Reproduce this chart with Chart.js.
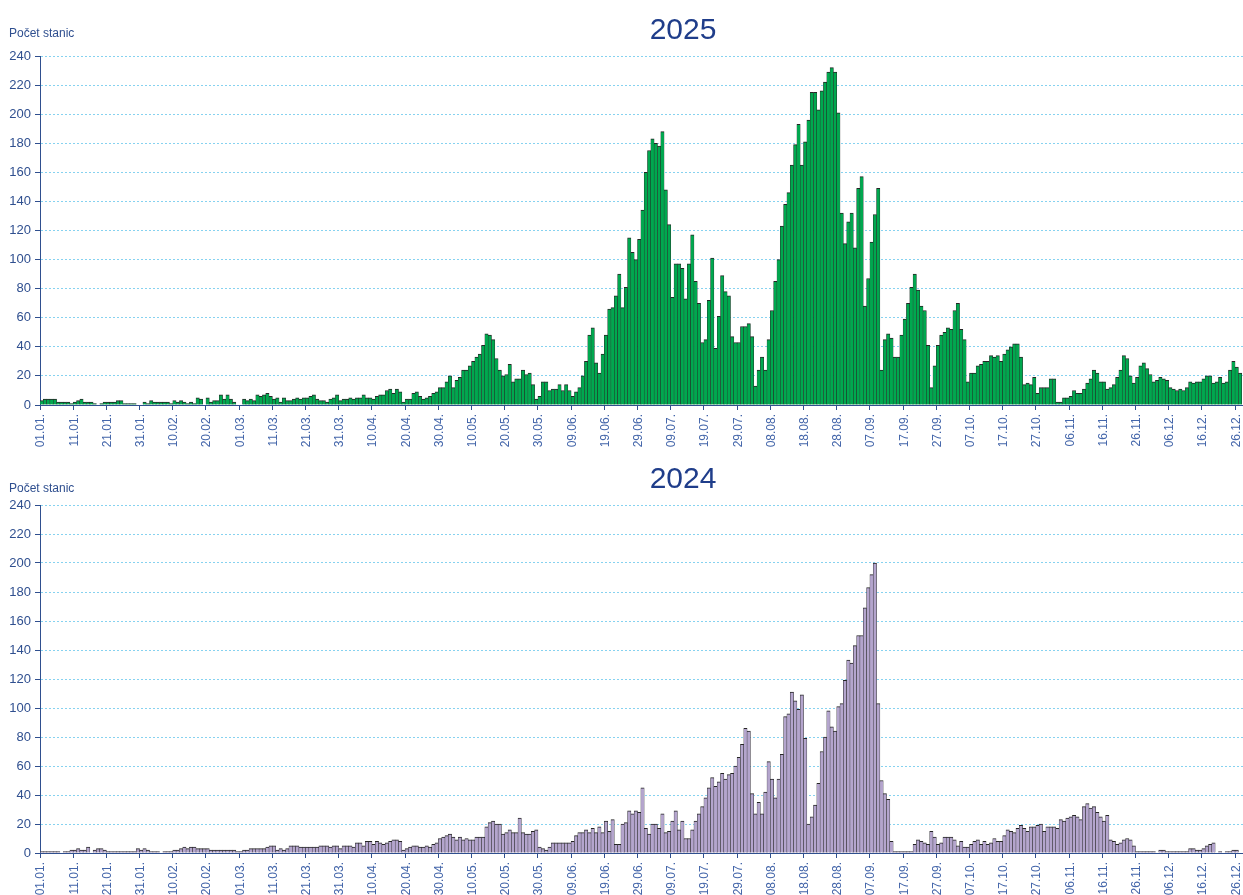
<!DOCTYPE html>
<html>
<head>
<meta charset="utf-8">
<script src="https://cdn.jsdelivr.net/npm/chart.js@4.4.1/dist/chart.umd.min.js"></script>
<style>
html, body { margin: 0; padding: 0; background: #ffffff; overflow: hidden; width: 1243px; height: 895px; }
#wrap { position: relative; width: 1366px; height: 895px; }
canvas { display: block; }
</style>
</head>
<body>
<div id="wrap">
  <canvas id="c2025" width="1366" height="448"></canvas>
  <canvas id="c2024" width="1366" height="447"></canvas>
</div>
<script>
// ---- data ----
const tickLabels = ['01.01.','11.01.','21.01.','31.01.','10.02.','20.02.','01.03.','11.03.','21.03.','31.03.',
  '10.04.','20.04.','30.04.','10.05.','20.05.','30.05.','09.06.','19.06.','29.06.','09.07.','19.07.','29.07.',
  '08.08.','18.08.','28.08.','07.09.','17.09.','27.09.','07.10.','17.10.','27.10.','06.11.','16.11.','26.11.',
  '06.12.','16.12.','26.12.'];
const dayCount = 366;
const yAxisTitle = 'Počet stanic';
const titles = ['2025', '2024'];

const values2025 = [
  3,4,4,4,4,2,2,2,2,1, 2,3,4,2,2,2,1,0,1,2, 2,2,2,3,3,1,1,1,1,0,
  0,2,1,3,2,2,2,2,2,1, 3,2,3,2,1,2,1,5,4,0, 5,2,3,3,7,4,7,4,2,0,
  0,4,3,4,3,7,6,7,8,6, 4,5,2,5,3,3,4,5,4,5, 5,6,7,4,3,3,2,4,5,7,
  3,4,4,5,4,5,5,7,5,5, 4,6,7,7,10,11,8,11,9,2, 4,4,8,9,6,4,5,6,8,9,
  12,12,16,20,12,17,19,24,24,27, 30,33,35,41,49,48,45,32,24,20, 21,28,16,18,18,24,21,22,14,4,
  6,16,16,10,11,11,14,10,14,10, 6,9,12,20,30,48,53,29,22,35, 48,66,67,75,90,67,81,115,105,100,
  114,134,160,175,183,180,178,188,148,124, 74,97,97,94,73,97,117,85,70,43, 45,72,101,39,61,89,78,75,47,43,
  43,54,54,56,47,13,24,33,24,45, 65,85,100,123,138,146,165,179,193,165, 181,196,215,215,203,216,222,229,232,229,
  201,132,111,126,132,108,149,157,68,87, 112,131,149,24,45,49,46,33,33,48, 59,70,81,90,79,68,65,41,12,27,
  41,48,50,53,52,65,70,52,45,16, 22,22,27,28,30,30,34,33,34,30, 35,38,40,42,42,33,14,15,14,19,
  8,12,12,12,18,18,2,2,5,5, 6,10,8,8,11,15,18,24,22,16, 16,11,12,14,19,24,34,32,20,15,
  19,27,29,25,21,16,17,19,18,17, 12,11,10,11,10,12,16,15,16,16, 18,20,20,15,16,19,15,16,24,30,
  26,22
];

const values2024 = [
  1,1,1,1,1,1,0,1,1,2, 2,3,2,2,4,0,2,3,3,2, 1,1,1,1,1,1,1,1,1,3,
  2,3,2,1,1,1,0,1,1,1, 2,2,3,4,3,4,4,3,3,3, 3,2,2,2,2,2,2,2,2,1,
  1,2,2,3,3,3,3,3,4,5, 5,2,3,2,3,5,5,5,4,4, 4,4,4,4,5,5,5,4,5,5,
  3,5,5,5,4,7,7,5,8,8, 6,8,7,6,7,8,9,9,8,2, 3,4,5,5,4,4,5,4,6,7,
  10,11,12,13,11,9,11,9,10,9, 9,11,11,11,18,21,22,20,20,13, 14,16,14,14,24,14,13,13,15,16,
  4,3,2,4,7,7,7,7,7,7, 8,12,14,14,16,14,17,14,18,14, 22,15,23,6,6,20,21,29,27,29,
  28,45,17,13,20,20,17,27,14,15, 22,29,16,22,10,10,16,22,27,32, 38,45,52,46,49,55,51,54,55,60,
  66,75,86,84,41,27,35,27,42,63, 51,38,51,68,94,96,111,105,99,109, 79,20,25,33,48,70,80,98,87,84,
  101,103,119,133,131,143,150,150,169,183, 192,200,103,50,41,37,8,1,1,1, 1,1,1,6,9,8,7,6,15,11,
  6,7,11,11,11,9,5,8,4,4, 6,8,9,6,8,6,7,10,8,8, 12,16,15,14,17,19,17,15,18,18,
  19,20,15,18,18,18,17,23,22,24, 25,26,25,23,32,34,31,32,28,25, 22,26,9,8,6,7,9,10,9,5,
  1,1,1,1,1,1,0,2,2,1, 1,1,1,1,1,1,3,3,2,2, 3,5,6,7,0,1,0,1,1,2,
  2
];

// ---- building the category table ----
const categories = [];
for (let i = 0; i < dayCount; i++) categories.push(i);

const AXIS_BLUE = '#2f4f8f';
const LABEL_BLUE = '#4466aa';
const TITLE_BLUE = '#1f3d8a';
const GRID_BLUE = '#86d2f0';
const FONT = "'Liberation Sans', Arial, sans-serif";

// texts placed outside the plot: the year heading and the y-axis caption
const headingPlugin = {
  id: 'heading',
  afterDraw(chart, args, opts) {
    const ctx = chart.ctx;
    ctx.save();
    ctx.fillStyle = TITLE_BLUE;
    ctx.font = '30px ' + FONT;
    ctx.textAlign = 'center';
    ctx.textBaseline = 'alphabetic';
    ctx.fillText(opts.title, opts.titleX, opts.titleBaseline);
    ctx.fillStyle = AXIS_BLUE;
    ctx.font = '12px ' + FONT;
    ctx.textAlign = 'left';
    ctx.fillText(opts.caption, 9, opts.captionBaseline);
    ctx.restore();
  }
};

function makeChart(id, title, values, fill, topPad, titleBaseline, captionBaseline, xHeight) {
  return new Chart(document.getElementById(id), {
    type: 'bar',
    data: {
      labels: categories,
      datasets: [{
        data: values,
        backgroundColor: fill,
        borderColor: '#262626',
        borderWidth: { top: 1, left: 0.5, right: 0.5, bottom: 0 },
        borderSkipped: 'start',
        barPercentage: 1,
        categoryPercentage: 1
      }]
    },
    options: {
      responsive: false,
      animation: false,
      events: [],
      layout: { padding: { left: 0, right: 111, top: topPad, bottom: 0 } },
      plugins: {
        legend: { display: false },
        tooltip: { enabled: false },
        title: { display: false },
        heading: { title: title, titleX: 683, titleBaseline: titleBaseline, caption: yAxisTitle, captionBaseline: captionBaseline }
      },
      scales: {
        x: {
          type: 'category',
          offset: true,
          afterFit(scale) { scale.height = xHeight; },
          grid: {
            offset: true,
            drawOnChartArea: false,
            drawTicks: true,
            tickLength: 5,
            tickColor: (ctx) => (ctx.index % 10 === 0 ? AXIS_BLUE : 'rgba(0,0,0,0)'),
            tickWidth: 1
          },
          border: { display: true, color: AXIS_BLUE, width: 1 },
          ticks: {
            autoSkip: false,
            maxRotation: 90,
            minRotation: 90,
            padding: 4,
            labelOffset: -0.5,
            color: LABEL_BLUE,
            font: { size: 12, family: FONT },
            callback: (value, index) => (index % 10 === 0 ? tickLabels[index / 10] : '')
          }
        },
        y: {
          min: 0,
          max: 240,
          afterFit(scale) { scale.width = 40; },
          grid: {
            color: GRID_BLUE,
            lineWidth: 1,
            drawTicks: true,
            tickLength: 5,
            tickColor: AXIS_BLUE,
            tickBorderDash: []
          },
          border: { display: true, color: AXIS_BLUE, width: 1, dash: [2, 2] },
          ticks: {
            stepSize: 20,
            padding: 4,
            color: AXIS_BLUE,
            font: { size: 13, family: FONT }
          }
        }
      }
    },
    plugins: [headingPlugin]
  });
}

makeChart('c2025', titles[0], values2025, '#00a84f', 56, 39, 37, 43);
makeChart('c2024', titles[1], values2024, '#b4a5cd', 57, 40, 44, 42);
</script>
</body>
</html>
